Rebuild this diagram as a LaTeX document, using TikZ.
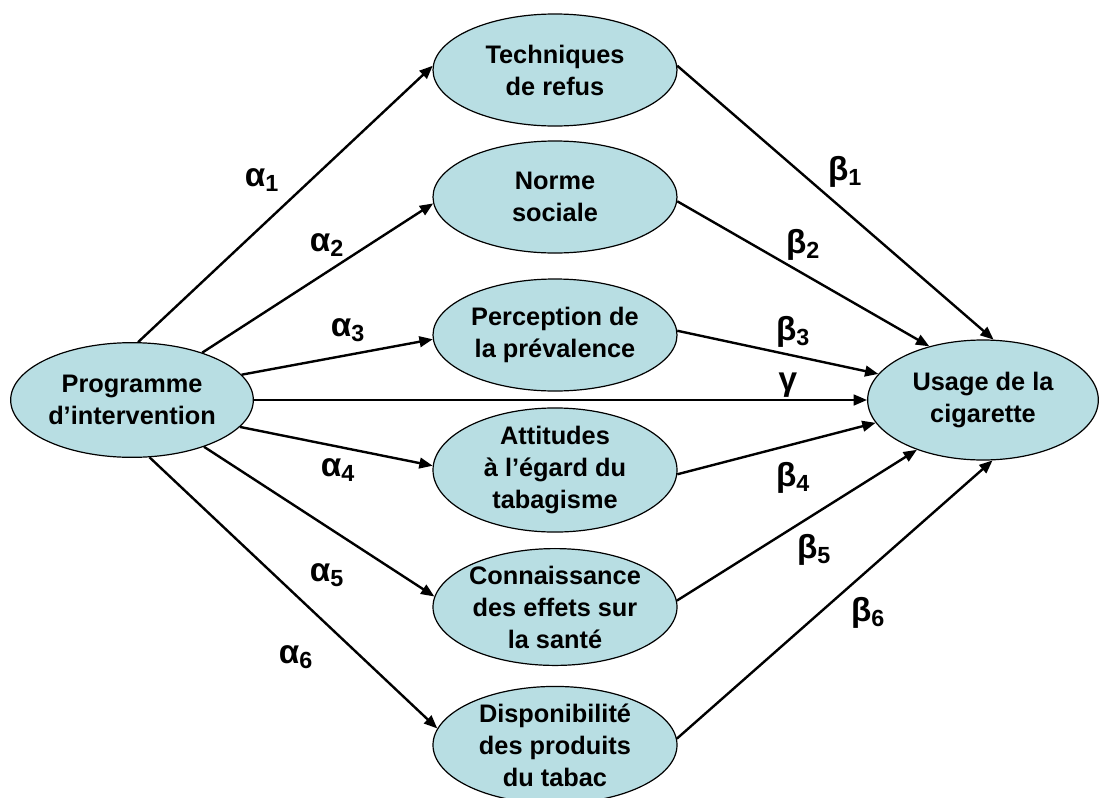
\documentclass[tikz,border=0pt]{standalone}
\usepackage{fontspec}
\setmainfont{Liberation Sans}
\usetikzlibrary{shapes.geometric,arrows.meta}
\definecolor{fillblue}{RGB}{184,222,227}
\begin{document}
\begin{tikzpicture}[x=0.75pt,y=-0.75pt,
  oval/.style={ellipse,draw=black,line width=0.9pt,fill=fillblue,inner sep=0pt,
    minimum width=183pt,minimum height=84pt,align=center,
    font=\bfseries\fontsize{19}{24}\selectfont},
  conn/.style={line width=1.8pt,-{Triangle[length=10pt,width=8pt]}},
  lab/.style={font=\bfseries\fontsize{25}{28}\selectfont}]
\useasboundingbox (0,0) rectangle (1100,797);
\node[oval,minimum width=182pt,minimum height=86pt] (prog) at (132,400) {Programme\\d’intervention};
\node[oval] (tech) at (555,70) {Techniques\\de refus};
\node[oval] (norme) at (555,197) {Norme\\sociale};
\node[oval] (perc) at (555,335) {Perception de\\la prévalence};
\node[oval] (att) at (555,470) {Attitudes\\à l’égard du\\tabagisme};
\node[oval] (conn) at (555,607) {Connaissance\\des effets sur\\la santé};
\node[oval] (dispo) at (555,745) {Disponibilité\\des produits\\du tabac};
\node[oval,minimum width=173pt,minimum height=90pt] (usage) at (983,400) {Usage de la\\cigarette};

\draw[conn] (prog.84) -- (tech.178);
\draw[conn] (prog.34) -- (norme.183);
\draw[conn] (prog.13) -- (perc.182);
\draw[conn] (prog.0) -- (usage.180);
\draw[conn] (prog.-14) -- (att.178);
\draw[conn] (prog.-33) -- (conn.175);
\draw[conn] (prog.-73) -- (dispo.172);

\draw[conn] (tech.2) -- (usage.80);
\draw[conn] (norme.-2) -- (usage.135);
\draw[conn] (perc.2) -- (usage.166);
\draw[conn] (att.-2) -- (usage.192);
\draw[conn] (conn.3) -- (usage.217);
\draw[conn] (dispo.3) -- (usage.279);

\node[lab] (a1) at (262,180) {α\textsubscript{1}};
\node[lab] (a2) at (327,245) {α\textsubscript{2}};
\node[lab] (a3) at (348,330) {α\textsubscript{3}};
\node[lab] (g) at (788,385) {γ};
\node[lab] (a4) at (338,470) {α\textsubscript{4}};
\node[lab] (a5) at (327,575) {α\textsubscript{5}};
\node[lab] (a6) at (296,657) {α\textsubscript{6}};
\node[lab] (b1) at (845,172) {β\textsubscript{1}};
\node[lab] (b2) at (803,245) {β\textsubscript{2}};
\node[lab] (b3) at (793,332) {β\textsubscript{3}};
\node[lab] (b4) at (793,478) {β\textsubscript{4}};
\node[lab] (b5) at (814,550) {β\textsubscript{5}};
\node[lab] (b6) at (868,613) {β\textsubscript{6}};
\end{tikzpicture}
\end{document}
